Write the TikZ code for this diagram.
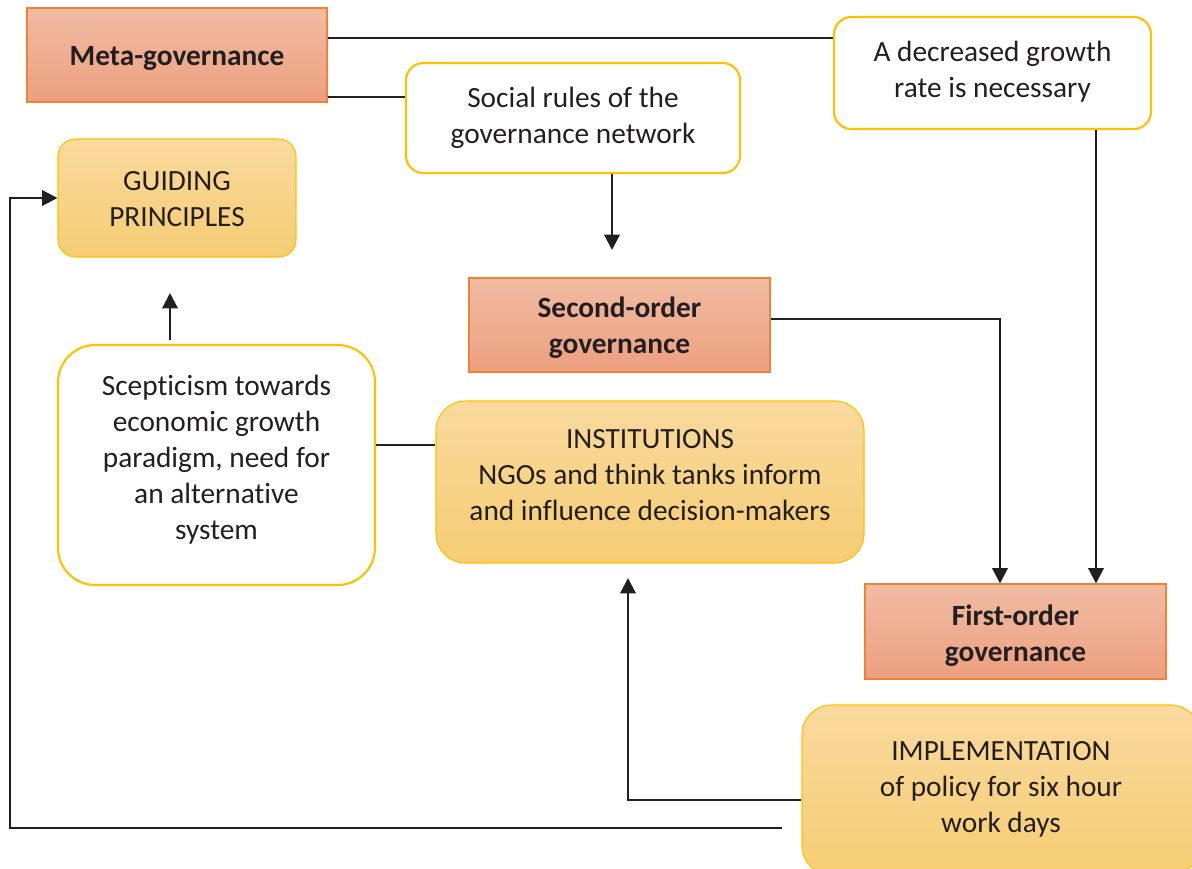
\documentclass[tikz,border=0pt]{standalone}
\usepackage{fontspec}
\setmainfont{Carlito}[Ligatures={NoCommon,TeX}]
\usetikzlibrary{arrows.meta}

\definecolor{ink}{HTML}{231F20}
\definecolor{salmonTop}{HTML}{F1BBA3}
\definecolor{salmonBot}{HTML}{ECA07F}
\definecolor{salmonEdge}{HTML}{F08236}
\definecolor{goldTop}{HTML}{F9DA9E}
\definecolor{goldBot}{HTML}{F6CD74}
\definecolor{goldEdge}{HTML}{FFC000}

\tikzset{
  sz/.style 2 args={minimum width=#1*0.75pt, minimum height=#2*0.75pt},
  basebox/.style={inner sep=0pt},
  txt/.style={inner sep=0pt, align=center, text=ink,
    font=\fontsize{22}{27}\selectfont},
  boldtxt/.style={txt, font=\fontsize{22}{27}\selectfont\bfseries},
  govbox/.style={basebox, draw=salmonEdge, line width=0.8pt,
    top color=salmonTop, bottom color=salmonBot},
  notebox/.style={basebox, draw=goldEdge, line width=1.6pt, fill=white,
    rounded corners=13pt},
  levelbox/.style={basebox, draw=goldEdge, line width=0.8pt,
    top color=goldTop, bottom color=goldBot, rounded corners=13pt},
  link/.style={draw=ink, line width=1.8pt},
  flow/.style={link, -{Triangle[length=11.5pt, width=11.5pt]}},
  thinlink/.style={draw=ink, line width=0.8pt}
}

\begin{document}
\begin{tikzpicture}[x=0.75pt, y=-0.75pt]
\useasboundingbox (0,0) rectangle (1192,868);
\clip (0,0) rectangle (1192,868);

% governance levels
\node[govbox, sz={300}{94}] (meta) at (177,55) {};
\node[govbox, sz={301}{94}] (second) at (619.5,325) {};
\node[govbox, sz={301}{95}] (first) at (1015.5,631.5) {};

% statements
\node[notebox, sz={334}{110}] (social) at (573,118) {};
\node[notebox, sz={317}{112}] (decrease) at (992.5,73) {};
\node[notebox, sz={317}{240}, rounded corners=28pt] (scept) at (216.5,465) {};

% levels of the institutional analysis
\node[levelbox, sz={238}{118}] (guide) at (177,198) {};
\node[levelbox, sz={428}{162}, rounded corners=22pt] (inst) at (650,482) {};
\node[levelbox, sz={398}{170}, rounded corners=22pt] (impl) at (1001,790) {};

% box texts
\node[boldtxt] (metaText) at ([yshift=-3*0.75pt]meta.center) {Meta-governance};
\node[boldtxt] (secondText) at ([yshift=-3*0.75pt]second.center) {Second-order\\governance};
\node[boldtxt] (firstText) at ([yshift=-4*0.75pt]first.center) {First-order\\governance};
\node[txt] (socialText) at (social.center) {Social rules of the\\governance network};
\node[txt] (decreaseText) at ([yshift=1*0.75pt]decrease.center) {A decreased growth\\rate is necessary};
\node[txt] (sceptText) at ([yshift=5*0.75pt]scept.center)
  {Scepticism towards\\economic growth\\paradigm, need for\\an alternative\\system};
\node[txt] (guideText) at ([yshift=-1.5*0.75pt]guide.center) {GUIDING\\PRINCIPLES};
\node[txt] (instText) at ([yshift=7*0.75pt]inst.center)
  {INSTITUTIONS\\NGOs and think tanks inform\\and influence decision-makers};
\node[txt] (implText) at ([yshift=1*0.75pt]impl.center)
  {IMPLEMENTATION\\of policy for six hour\\work days};

% free ends of the connectors
\coordinate (socialTip) at (612,250);
\coordinate (sceptTip) at (170,293);
\coordinate (instTip) at (628,578);
\coordinate (implEnd) at (782,828);

% connectors
\draw[link] (meta.east |- 0,38) -- (decrease.west |- 0,38);
\draw[link] (meta.east |- 0,97) -- (social.west |- 0,97);
\draw[flow] (612,0 |- social.south) -- (socialTip);
\draw[flow] (1096,0 |- decrease.south) -- (1096,0 |- first.north);
\draw[flow] (second.east |- 0,319) -| (1000,0 |- first.north);
\draw[flow] (170,340) -- (sceptTip);
\draw[thinlink] (scept.east |- 0,445) -- (inst.west |- 0,445);
\draw[flow] (impl.west |- 0,800) -| (instTip);
\draw[flow] (implEnd) -| (10,0 |- guide.west) -- (guide.west);
\end{tikzpicture}
\end{document}
